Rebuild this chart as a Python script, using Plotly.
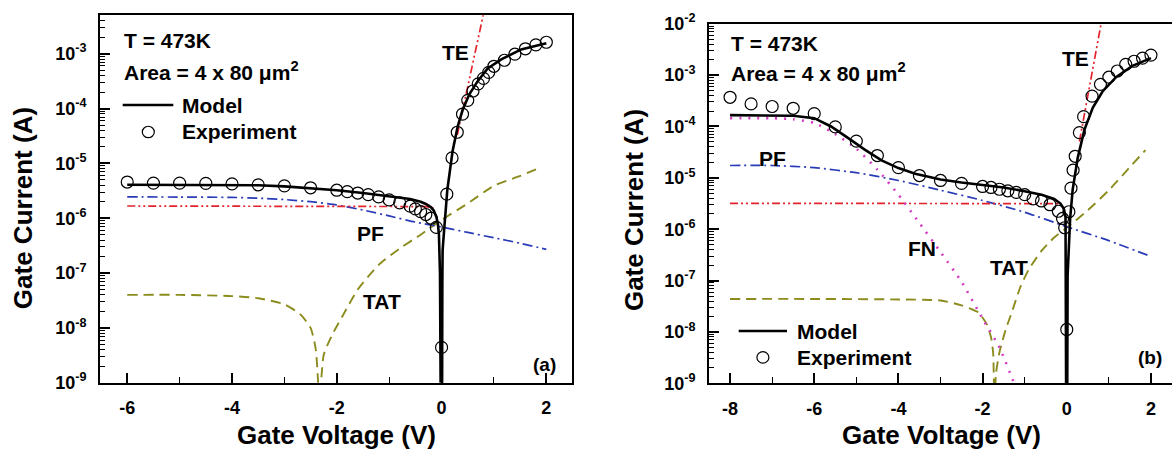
import plotly.graph_objects as go

# ---------------- Panel (a) data ----------------
a_exp_v = [-6, -5.5, -5, -4.5, -4, -3.5, -3, -2.5, -2, -1.8, -1.6, -1.4, -1.2, -1.0, -0.8, -0.6, -0.5,
           -0.4, -0.3, -0.2, -0.1, 0, 0.1, 0.2, 0.3, 0.4, 0.5, 0.6, 0.7, 0.8, 0.9, 1.0, 1.2, 1.4, 1.6, 1.8, 2.0]
a_exp_i = [4.57e-6, 4.37e-6, 4.37e-6, 4.32e-6, 4.22e-6, 4.07e-6, 3.89e-6, 3.59e-6, 3.24e-6, 3.05e-6, 2.88e-6,
           2.69e-6, 2.45e-6, 2.16e-6, 1.91e-6, 1.66e-6, 1.48e-6, 1.32e-6, 1.17e-6, 1.0e-6, 6.8e-7, 4.4e-9,
           2.75e-6, 1.26e-5, 3.7e-5, 7.9e-5, 1.41e-4, 2.09e-4, 2.82e-4, 3.55e-4, 4.57e-4, 5.9e-4, 7.6e-4,
           9.8e-4, 1.23e-3, 1.45e-3, 1.62e-3]

a_model_v = [-6, -5, -4, -3.5, -3, -2.5, -2, -1.5, -1, -0.6, -0.4, -0.3, -0.2, -0.15, -0.1, -0.07, -0.05,
             -0.03, -0.012, 0.008, 0.015, 0.02, 0.05, 0.075, 0.11, 0.21, 0.31, 0.40, 0.53, 0.69, 0.88, 1.14,
             1.52, 2.0]
a_model_i = [4.07e-6, 4.07e-6, 4.03e-6, 3.98e-6, 3.80e-6, 3.55e-6, 3.24e-6, 2.88e-6, 2.51e-6, 2.24e-6, 2.0e-6,
             1.82e-6, 1.58e-6, 1.38e-6, 1.07e-6, 7.9e-7, 5.0e-7, 1.0e-7, 1e-10, 1e-10, 6.3e-8, 2.6e-7, 6.3e-7,
             1.17e-6, 3.3e-6, 1.66e-5, 4.8e-5, 9.3e-5, 1.82e-4, 3.16e-4, 5.4e-4, 7.9e-4, 1.20e-3, 1.55e-3]

a_te_rev_v = [-6, -1, -0.3, -0.15]
a_te_rev_i = [1.67e-6, 1.67e-6, 1.63e-6, 1.52e-6]
a_te_fwd_v = [0.3, 0.5, 0.7, 0.82]
a_te_fwd_i = [3.3e-5, 2.5e-4, 1.9e-3, 6.5e-3]

a_pf_v = [-6, -5, -4, -3.5, -3, -2.5, -2, -1.5, -1, -0.5, 0, 0.5, 1, 1.5, 2]
a_pf_i = [2.45e-6, 2.43e-6, 2.40e-6, 2.32e-6, 2.19e-6, 2.0e-6, 1.74e-6, 1.41e-6, 1.10e-6, 8.5e-7, 6.9e-7,
          5.5e-7, 4.4e-7, 3.5e-7, 2.7e-7]

a_tat_v = [-6, -5, -4, -3.5, -3, -2.7, -2.5, -2.4, -2.33, -2.25, -2.1, -1.9, -1.6, -1.2, -0.8, -0.4, 0,
           0.5, 1.0, 1.5, 1.9]
a_tat_i = [4.0e-8, 4.0e-8, 3.8e-8, 3.47e-8, 2.69e-8, 1.78e-8, 1.0e-8, 4.0e-9, 5e-10, 3.2e-9, 7.1e-9, 1.58e-8,
           5.0e-8, 1.41e-7, 2.8e-7, 5.0e-7, 9.3e-7, 1.86e-6, 3.9e-6, 5.9e-6, 8.5e-6]

# ---------------- Panel (b) data ----------------
b_exp_v = [-8, -7.5, -7, -6.5, -6, -5.5, -5, -4.5, -4, -3.5, -3, -2.5, -2, -1.8, -1.6, -1.4, -1.2, -1.0,
           -0.8, -0.6, -0.4, -0.2, -0.1, -0.05, 0, 0.05, 0.1, 0.15, 0.2, 0.3, 0.4, 0.6, 0.8, 1.0, 1.2, 1.4,
           1.6, 1.8, 2.0]
b_exp_i = [3.7e-4, 2.75e-4, 2.45e-4, 2.26e-4, 1.78e-4, 9.8e-5, 5.2e-5, 2.72e-5, 1.58e-5, 1.11e-5, 8.9e-6,
           7.8e-6, 6.8e-6, 6.5e-6, 6.0e-6, 5.6e-6, 5.2e-6, 4.7e-6, 3.9e-6, 3.55e-6, 3.0e-6, 2.24e-6, 1.62e-6,
           1.07e-6, 1.12e-8, 2.19e-6, 6.3e-6, 1.41e-5, 2.63e-5, 7.6e-5, 1.55e-4, 3.9e-4, 6.6e-4, 9.1e-4,
           1.20e-3, 1.62e-3, 1.86e-3, 2.14e-3, 2.45e-3]

b_model_v = [-8, -7, -6.5, -6, -5.6, -5.2, -4.8, -4.4, -4.0, -3.6, -3.0, -2.5, -2.0, -1.5, -1.0, -0.6, -0.3,
             -0.15, -0.07, -0.03, -0.012, 0.008, 0.02, 0.05, 0.08, 0.14, 0.26, 0.42, 0.62, 0.85, 1.17, 1.56, 2.0]
b_model_i = [1.66e-4, 1.66e-4, 1.62e-4, 1.45e-4, 1.0e-4, 6.0e-5, 3.55e-5, 2.19e-5, 1.55e-5, 1.20e-5, 9.3e-6,
             8.1e-6, 7.2e-6, 6.5e-6, 5.5e-6, 4.7e-6, 3.9e-6, 3.16e-6, 2.5e-6, 1.78e-6, 1e-10, 1e-10, 1.26e-7,
             4.6e-7, 1.62e-6, 5.9e-6, 2.45e-5, 8.7e-5, 2.34e-4, 4.8e-4, 9.1e-4, 1.51e-3, 2.14e-3]

b_te_rev_v = [-8, -1, -0.2]
b_te_rev_i = [3.2e-6, 3.2e-6, 3.15e-6]
b_te_fwd_v = [0.3, 0.5, 0.7, 0.81]
b_te_fwd_i = [5.1e-5, 4.0e-4, 3.1e-3, 9.5e-3]

b_pf_v = [-8, -7, -6, -5, -4, -3, -2, -1, 0, 1, 2]
b_pf_i = [1.74e-5, 1.74e-5, 1.58e-5, 1.26e-5, 8.9e-6, 5.75e-6, 3.63e-6, 2.14e-6, 1.12e-6, 6.0e-7, 2.95e-7]

b_fn_v = [-8, -7, -6.5, -6, -5.5, -5, -4.5, -4, -3.5, -3, -2.5, -2, -1.6, -1.25, -1.1]
b_fn_i = [1.45e-4, 1.45e-4, 1.38e-4, 1.17e-4, 7.1e-5, 3.7e-5, 1.45e-5, 4.7e-6, 1.32e-6, 3.6e-7, 9.5e-8,
          1.82e-8, 5.0e-9, 1.0e-9, 5.0e-10]

b_tat_v = [-8, -6, -4, -3, -2.5, -2.1, -1.9, -1.8, -1.75, -1.72, -1.68, -1.6, -1.45, -1.3, -1.1, -0.9, -0.6,
           -0.3, 0, 0.5, 1.0, 1.5, 1.87]
b_tat_i = [4.4e-8, 4.4e-8, 4.3e-8, 4.1e-8, 3.3e-8, 2.4e-8, 1.41e-8, 7.9e-9, 4.0e-9, 5e-10, 1.6e-9, 4.0e-9,
           1.12e-8, 2.5e-8, 7.6e-8, 1.66e-7, 3.8e-7, 6.9e-7, 1.07e-6, 2.34e-6, 5.75e-6, 1.62e-5, 3.47e-5]

x_tick_vals = [-8, -6, -4, -2, 0, 2]
y_exponents = [-9, -8, -7, -6, -5, -4, -3, -2]

# ---------------- figure ----------------
W, H = 1172, 461
FONT = "Liberation Sans, Arial, sans-serif"
RED = "#e3222b"
BLUE = "#2a3bb8"
OLIVE = "#8c8c1e"
MAG = "#d43cc4"


def px(x):
    return x / W


def py(y):
    return 1 - y / H


fig = go.Figure()


def add(xs, ys, ax, color, width, dash="solid", shape="linear"):
    fig.add_trace(go.Scatter(x=xs, y=ys, mode="lines", xaxis=ax[0], yaxis=ax[1], showlegend=False,
                             line=dict(color=color, width=width, dash=dash, shape=shape, smoothing=0.6)))


for ax, d in [(("x", "y"), dict(te_rev=(a_te_rev_v, a_te_rev_i), te_fwd=(a_te_fwd_v, a_te_fwd_i),
                                 pf=(a_pf_v, a_pf_i), tat=(a_tat_v, a_tat_i), fn=None,
                                 model=(a_model_v, a_model_i), exp=(a_exp_v, a_exp_i))),
              (("x2", "y2"), dict(te_rev=(b_te_rev_v, b_te_rev_i), te_fwd=(b_te_fwd_v, b_te_fwd_i),
                                   pf=(b_pf_v, b_pf_i), tat=(b_tat_v, b_tat_i), fn=(b_fn_v, b_fn_i),
                                   model=(b_model_v, b_model_i), exp=(b_exp_v, b_exp_i)))]:
    add(*d["tat"], ax, OLIVE, 1.9, "10px,6px", "spline")
    add(*d["pf"], ax, BLUE, 1.7, "10px,4px,2px,4px", "spline")
    add(*d["te_rev"], ax, RED, 1.7, "8px,3px,2px,3px,2px,3px")
    add(*d["te_fwd"], ax, RED, 1.7, "8px,3px,2px,3px,2px,3px")
    if d["fn"] is not None:
        add(*d["fn"], ax, MAG, 2.6, "2px,7px", "spline")
    add(*d["model"], ax, "black", 2.6)
    fig.add_trace(go.Scatter(x=d["exp"][0], y=d["exp"][1], mode="markers", xaxis=ax[0], yaxis=ax[1],
                             showlegend=False,
                             marker=dict(symbol="circle-open", size=12, color="black", line=dict(width=1.2))))

minor_y = [k * 10.0 ** e for e in range(-10, -1) for k in range(2, 10)]
xaxis_common = dict(showline=True, linecolor="black", linewidth=2, mirror=True, ticks="inside", ticklen=10,
                    tickwidth=1.5, tickcolor="black", showgrid=False, zeroline=False,
                    tickvals=x_tick_vals, ticktext=[str(v) for v in x_tick_vals],
                    tickfont=dict(family=FONT, size=18, color="black", weight="bold"),
                    ticklabelstandoff=8,
                    minor=dict(ticks="inside", ticklen=6, tickwidth=1.2, tickcolor="black", dtick=1,
                               tick0=-9, showgrid=False))
yaxis_common = dict(type="log", showline=True, linecolor="black", linewidth=2, ticks="inside", ticklen=10,
                    tickwidth=1.5, tickcolor="black", showgrid=False, zeroline=False,
                    tickvals=[10.0 ** e for e in y_exponents],
                    ticktext=["10<sup>%d</sup>" % e for e in y_exponents],
                    tickfont=dict(family=FONT, size=18, color="black", weight="bold"),
                    ticklabelstandoff=8,
                    minor=dict(ticks="inside", ticklen=5, tickwidth=1, tickcolor="black",
                               tickvals=minor_y, showgrid=False))

fig.update_layout(
    width=W, height=H, margin=dict(l=0, r=0, t=0, b=0), plot_bgcolor="white", paper_bgcolor="white",
    showlegend=False,
    xaxis=dict(xaxis_common, domain=[px(100), px(572)], range=[-6.52, 2.49], anchor="y"),
    yaxis=dict(yaxis_common, domain=[py(389.3), py(3.5)], range=[-9, -2.3], anchor="x", mirror=True),
    xaxis2=dict(xaxis_common, domain=[px(709), 1.0], range=[-8.5, 2.5], anchor="y2"),
    yaxis2=dict(yaxis_common, domain=[py(390), py(12.3)], range=[-9, -2], anchor="x2", mirror=False),
)

ann = []


def text(t, x, y, size=21, xanchor="center", textangle=0):
    ann.append(dict(text="<b>%s</b>" % t, x=px(x), y=py(y), xref="paper", yref="paper", showarrow=False,
                    xanchor=xanchor, yanchor="middle", textangle=textangle,
                    font=dict(family=FONT, size=size, color="black")))


# panel a texts
text("T = 473K", 122, 29.5, xanchor="left")
text("Area = 4 x 80 \u03bcm<sup>2</sup>", 122, 62, xanchor="left")
text("Model", 180, 97.7, xanchor="left")
text("Experiment", 180, 126, xanchor="left")
text("TE", 455, 43)
text("PF", 370, 233)
text("TAT", 382, 304)
text("(a)", 544, 370, size=19)
text("Gate Voltage (V)", 336, 444, size=26)
text("Gate Current (A)", 23, 206, size=26, textangle=-90)

# panel b texts
text("T = 473K", 729, 33.5, xanchor="left")
text("Area = 4 x 80 \u03bcm<sup>2</sup>", 729, 63.5, xanchor="left")
text("Model", 795, 335, xanchor="left")
text("Experiment", 795, 363, xanchor="left")
text("TE", 1075, 49)
text("PF", 772, 154)
text("FN", 922, 248)
text("TAT", 1009, 268)
text("(b)", 1150, 363, size=19)
text("Gate Voltage (V)", 941, 444, size=26)
text("Gate Current (A)", 634, 208, size=26, textangle=-90)

fig.update_layout(annotations=ann)

shapes = [
    dict(type="line", xref="paper", yref="paper", x0=px(122.7), x1=px(173.3), y0=py(97.7), y1=py(97.7),
         line=dict(color="black", width=2.6)),
    dict(type="circle", xref="paper", yref="paper", x0=px(148.3 - 6), x1=px(148.3 + 6),
         y0=py(126 + 6), y1=py(126 - 6), line=dict(color="black", width=1.2)),
    dict(type="line", xref="paper", yref="paper", x0=px(738.7), x1=px(787), y0=py(335), y1=py(335),
         line=dict(color="black", width=2.6)),
    dict(type="circle", xref="paper", yref="paper", x0=px(762.9 - 6), x1=px(762.9 + 6),
         y0=py(362.7 + 6), y1=py(362.7 - 6), line=dict(color="black", width=1.2)),
]
fig.update_layout(shapes=shapes)

fig.write_html("out.html", config={"displayModeBar": False},
               post_script="document.body.style.margin='0';document.body.style.overflow='hidden';")
